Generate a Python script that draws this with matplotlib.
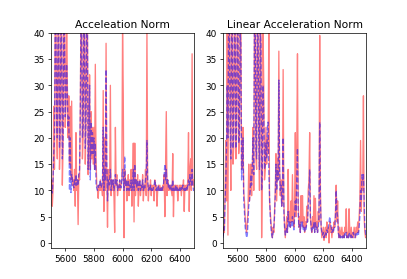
import numpy as np
import matplotlib
matplotlib.use('Agg')
import matplotlib.pyplot as plt

# sample index, every 5 steps from 5500 to 6500
t = np.arange(5500, 6501, 5)

acc_red = [
    11, 12, 7, 10, 26, 14, 45, 45, 22, 16, 45, 45, 14, 20, 45, 45, 11, 18, 45, 45,
    22, 26, 45, 30, 20, 28, 15, 26, 12, 27, 11, 12, 10, 14, 7, 21, 10, 12, 3.5, 13,
    12, 25, 45, 45, 16, 20, 45, 45, 15, 22, 45, 45, 13, 20, 32, 14, 25, 16, 22, 15,
    22, 14, 34, 16, 11, 10, 8.5, 11, 10, 12, 10, 11, 9, 29, 6, 20, 10, 38, 12, 3,
    14, 10, 12, 30, 9, 12, 10, 12, 9, 2, 22, 11, 13, 9, 11, 10, 12, 10, 11, 12,
    41, 28, 1, 14, 11, 12, 8, 11, 13, 9, 12, 10, 14, 7, 12, 19, 4, 19, 9, 12,
    10, 13, 7, 11, 12, 9, 11, 10, 13, 8, 11, 10, 14, 9, 41, 12, 8, 11, 10, 12,
    9, 11, 10, 11, 8, 12, 10, 11, 7, 10, 11, 10, 11, 10, 10.5, 10, 11, 10, 13, 5,
    15, 25, 9, 12, 10, 11, 10, 11, 10, 9, 17, 5, 11, 10, 11, 10, 11, 8, 10, 11,
    10, 11, 9, 11, 10, 12, 6, 11, 10, 11, 10, 12, 21, 6, 14, 16, 10, 36, 11, 12,
    10,
]

acc_blue = [
    10, 10, 9.5, 12, 17, 20, 42, 42, 24, 20, 42, 42, 18, 22, 42, 42, 16, 20, 42, 40,
    24, 28, 34, 28, 22, 24, 10, 20, 9.6, 13, 12, 11, 10.5, 12, 11, 13, 11, 12, 11, 13,
    14, 24, 42, 42, 20, 22, 42, 42, 18, 24, 42, 40, 14, 20, 30, 12, 23, 17, 21, 17,
    20, 14, 19, 11, 10.5, 10, 11, 10.5, 11, 12, 10.5, 11, 12, 22, 10, 14, 12, 33, 15, 8,
    12, 11, 12, 14, 10, 12, 11, 12, 10, 11, 13, 11, 12, 10, 11, 10.5, 12, 11, 10.5, 12,
    14, 12, 10, 16.5, 11, 12, 10, 11, 12, 10, 11, 10.5, 12, 10, 11, 14, 10, 15, 11, 12,
    10.5, 12, 10, 11, 12, 10, 11, 10.5, 12, 10, 11, 10.5, 12, 13, 19.5, 12, 10, 10.5, 10, 11,
    10, 10.5, 10, 10.5, 11, 12, 11, 10, 10.5, 10, 11, 10, 10.5, 10, 10.5, 10, 10.5, 11, 13, 15,
    12, 14, 11, 12, 10.5, 11, 10, 10.5, 11, 10, 12, 10, 10.5, 10, 11, 10, 10.5, 10, 10.5, 10,
    10.5, 10, 10.5, 10, 11, 10.5, 10, 10.5, 10, 10.5, 10, 11, 12, 11, 13, 12, 11, 14, 11, 10,
    10,
]

lin_red = [
    1.5, 3, 2, 10, 19.5, 8, 40, 1.5, 45, 45, 25, 10, 45, 45, 15, 18, 45, 45, 16, 20,
    45, 45, 17, 20, 45, 45, 14, 15, 22, 10, 8, 5, 3, 2, 4, 6, 15, 8, 10, 15,
    9, 14, 22, 10, 45, 45, 16, 14, 45, 45, 20, 10, 45, 45, 1, 14, 40, 30, 12, 14,
    22, 15, 20, 17, 40, 8, 6, 4, 2, 1, 3, 2, 6, 10, 17, 8, 16, 12, 36.5, 15,
    9, 12, 7, 9, 33, 8, 3, 1, 3, 5, 2, 14, 4, 6, 3, 8, 4, 13, 5, 3,
    8, 21, 5, 18, 36, 8, 3, 5, 2, 9, 4, 9, 3, 5, 2, 4, 3, 7, 4, 10,
    12, 21, 5, 3, 2, 5, 3, 9, 2, 8.5, 3, 4, 2, 6, 4, 39.5, 10, 3, 1, 2,
    3, 0.5, 2, 3, 1, 4, 2, 3, 0, 4, 2, 3, 1, 3, 2, 4, 3, 6, 11, 4,
    8, 2, 1, 3, 1, 2, 3, 1, 2, 1, 3, 2, 6.5, 1, 2, 1, 6.5, 2, 1, 3,
    1, 2, 1, 3, 2, 1, 3, 2, 4, 2, 5, 8, 19.5, 6, 12, 10, 28, 5, 2, 1,
    1.5,
]

lin_blue = [
    1, 2, 2.5, 8, 12, 18, 30, 20, 42, 42, 24, 16, 42, 42, 18, 20, 42, 42, 18, 22,
    42, 40, 19, 20, 40, 38, 12, 15, 20, 8, 6, 3, 2, 1, 1.5, 4, 7, 8, 10, 13,
    11, 15, 20, 13, 42, 42, 18, 16, 42, 40, 20, 14, 40, 38, 10, 15, 30, 24, 14, 15,
    19, 16, 22, 23, 14, 9, 5, 3, 1.5, 1, 2, 3, 5, 9, 15, 10, 14, 12, 31, 14,
    10, 11, 7, 9, 20, 6, 3, 1.5, 2, 3, 2, 6, 3, 4, 3, 4, 3, 5, 3, 2.5,
    5, 8, 6, 12, 18, 6, 3, 3.5, 2, 4, 3, 4, 2.5, 3, 2, 3, 2.5, 4, 4, 7,
    9, 14, 5, 3, 2, 3, 2.5, 4, 2, 4, 2.5, 3, 2, 3, 5, 23, 8, 3, 2, 1.5,
    2, 1, 1.5, 2, 1.5, 2.5, 2, 3, 4, 5, 4, 3, 2, 2.5, 2, 3, 3, 5, 10, 6,
    5, 2, 1, 1.5, 1, 1.5, 1, 1, 1.5, 1, 2, 1.5, 2, 1, 1.5, 1, 2, 1.5, 1, 1.5,
    1, 1.5, 2, 1.5, 1, 1.5, 2, 1.5, 2, 1.5, 3, 5, 10, 8, 13, 12, 13, 8, 3, 2,
    1,
]

titles = ['Acceleation Norm', 'Linear Acceleration Norm']


def main():
    fig = plt.figure(figsize=(6.4, 4.4), dpi=407 / 6.4)
    series = [(acc_red, acc_blue), (lin_red, lin_blue)]
    for k, (red, blue) in enumerate(series):
        ax = fig.add_subplot(1, 2, k + 1)
        ax.plot(t, red, 'r', alpha=0.5)
        ax.plot(t, blue, 'b--', alpha=0.5)
        ax.set_xlim(5500, 6500)
        ax.set_ylim(-1, 40)
        ax.set_title(titles[k])
    fig.savefig('out.png', dpi=407 / 6.4)


if __name__ == '__main__':
    main()
